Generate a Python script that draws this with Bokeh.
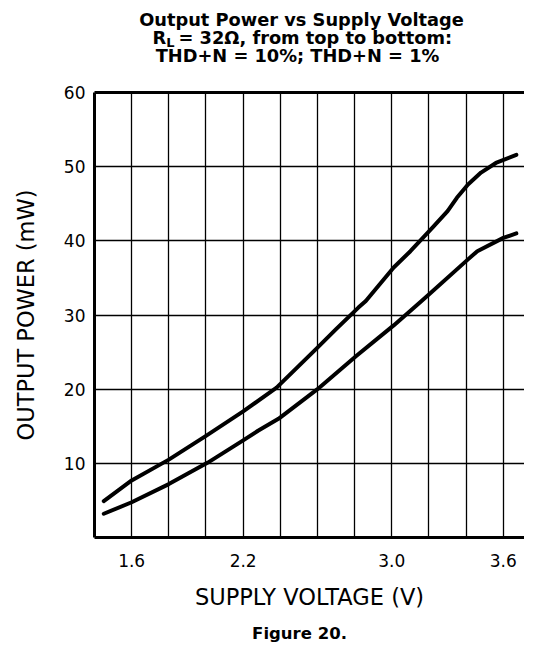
from bokeh.plotting import figure
from bokeh.layouts import column
from bokeh.models import LinearAxis, FixedTicker, PrintfTickFormatter, Range1d
from bokeh.core.properties import value
from bokeh.embed import file_html
from bokeh.resources import INLINE

# ---- data ----
# THD+N = 10% (upper curve)
v_hi = [1.45, 1.60, 1.80, 2.00, 2.20, 2.38, 2.49, 2.60, 2.70, 2.82, 2.86, 3.01, 3.10,
        3.22, 3.30, 3.35, 3.41, 3.48, 3.56, 3.67]
p_hi = [4.9, 7.7, 10.5, 13.7, 17.0, 20.2, 22.9, 25.6, 28.1, 31.0, 31.9, 36.4, 38.6,
        41.8, 44.0, 45.8, 47.6, 49.2, 50.5, 51.6]
# THD+N = 1% (lower curve)
v_lo = [1.45, 1.60, 1.80, 2.01, 2.20, 2.28, 2.39, 2.60, 2.81, 3.01, 3.16, 3.21,
        3.41, 3.46, 3.60, 3.67]
p_lo = [3.2, 4.75, 7.2, 10.1, 13.1, 14.4, 16.0, 20.0, 24.5, 28.6, 31.9, 33.0,
        37.5, 38.6, 40.4, 41.0]

x_tick_labels = [1.6, 2.2, 3.0, 3.6]
x_grid_lines = [1.6, 1.8, 2.0, 2.2, 2.4, 2.6, 2.8, 3.0, 3.2, 3.4, 3.6, 3.8]
y_ticks = [10, 20, 30, 40, 50, 60]
y_grid_lines = [10, 20, 30, 40, 50]

title_line1 = "Output Power vs Supply Voltage"
title_line2_main = "R"
title_line2_sub = "L"
title_line2_rest = "= 32\u03a9, from top to bottom:"
title_line3 = "THD+N = 10%; THD+N = 1%"
x_label = "SUPPLY VOLTAGE (V)"
y_label = "OUTPUT POWER (mW)"
caption = "Figure 20."

FONT = "DejaVu Sans"
W = 524
LEFT = 94
TITLE_H = 80
FOOT_H = 23
DY = -6  # baseline correction for text glyphs


def text_figure(h):
    # column() aligns this frame with the chart frame (LEFT..W), so map x = pixel
    f = figure(width=W, height=h, x_range=Range1d(LEFT, W), y_range=Range1d(h, 0),
               x_axis_type=None, y_axis_type=None,
               min_border_left=0, min_border_right=0, min_border_top=0, min_border_bottom=0,
               output_backend="svg", toolbar_location=None,
               background_fill_color="white", border_fill_color="white")
    f.outline_line_color = None
    return f


def put(f, x, y, txt, size, align="left", bold=True):
    f.text(x=[x], y=[y + DY], text=[txt], text_font=value(FONT), text_font_size=size,
           text_font_style="bold" if bold else "normal", text_align=align,
           text_baseline="alphabetic", text_color="black")


# ---- title block ----
t = text_figure(TITLE_H)
put(t, 301, 24.5, title_line1, "17.8px", align="center")
put(t, 152, 42.5, title_line2_main, "17.8px")
put(t, 165.7, 47.5, title_line2_sub, "13px")
put(t, 178, 42.5, title_line2_rest, "17.8px")
put(t, 297, 61, title_line3, "17.8px", align="center")

# ---- main chart ----
p = figure(width=W, frame_width=W - LEFT, frame_height=445,
           min_border_left=LEFT, min_border_right=0, min_border_top=12, min_border_bottom=84,
           x_range=Range1d(1.4, 3.714), y_range=Range1d(0, 60),
           output_backend="svg", toolbar_location=None,
           background_fill_color="white", border_fill_color="white")
p.outline_line_color = None

p.xaxis.ticker = FixedTicker(ticks=x_tick_labels)
p.xaxis.formatter = PrintfTickFormatter(format="%.1f")
p.yaxis.ticker = FixedTicker(ticks=y_ticks)
for ax in (p.xaxis[0], p.yaxis[0]):
    ax.axis_line_width = 3
    ax.axis_line_color = "black"
    ax.major_tick_line_color = None
    ax.minor_tick_line_color = None
    ax.major_tick_out = 0
    ax.major_tick_in = 0
    ax.major_label_text_font = FONT
    ax.major_label_text_font_size = "17px"
    ax.major_label_text_color = "black"
    ax.axis_label_text_font = FONT
    ax.axis_label_text_font_size = "22.5px"
    ax.axis_label_text_font_style = "normal"
    ax.axis_label_text_color = "black"
p.xaxis.axis_label = x_label
p.yaxis.axis_label = y_label
p.xaxis.major_label_standoff = 16
p.xaxis.axis_label_standoff = 14
p.yaxis.major_label_standoff = 9
p.yaxis.axis_label_standoff = 22

# top border of the box: an axis line with no ticks and no labels
top = LinearAxis(ticker=FixedTicker(ticks=[]), axis_line_width=3, axis_line_color="black",
                 major_tick_line_color=None, minor_tick_line_color=None,
                 major_tick_out=0, major_tick_in=0, major_label_standoff=0)
p.add_layout(top, "above")

p.xgrid.ticker = FixedTicker(ticks=x_grid_lines)
p.ygrid.ticker = FixedTicker(ticks=y_grid_lines)
for g in (p.xgrid[0], p.ygrid[0]):
    g.grid_line_color = "black"
    g.grid_line_width = 1.3
    g.grid_line_alpha = 1.0

p.line(v_hi, p_hi, line_color="black", line_width=4, line_cap="round", line_join="round")
p.line(v_lo, p_lo, line_color="black", line_width=4, line_cap="round", line_join="round")

# ---- caption ----
c = text_figure(FOOT_H)
put(c, 299, 18, caption, "16.5px", align="center")

layout = column(t, p, c, spacing=0)
open("out.html", "w").write(file_html(layout, INLINE))
